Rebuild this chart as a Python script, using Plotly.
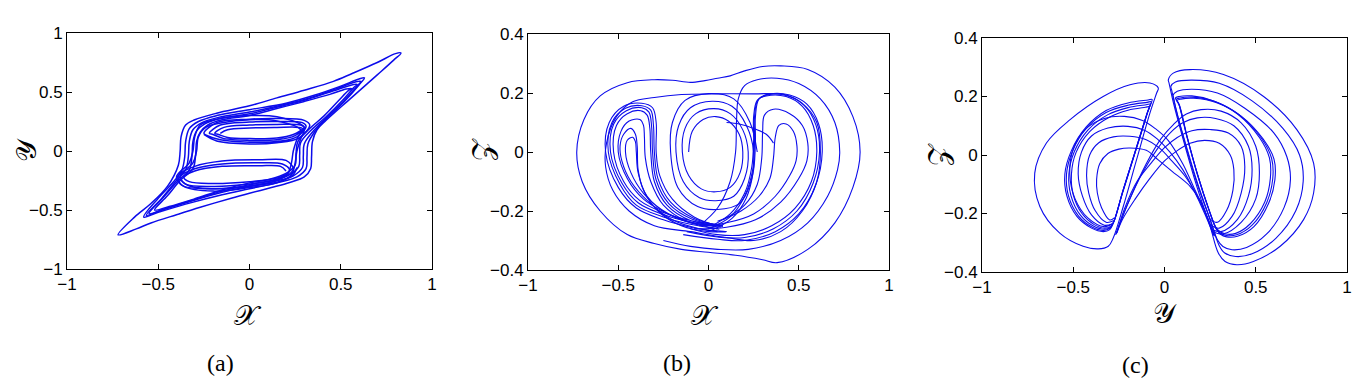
import plotly.graph_objects as go

# ---------------- tick labels ----------------
xy_ticks = [-1, -0.5, 0, 0.5, 1]
xy_tick_text = ["−1", "−0.5", "0", "0.5", "1"]
z_ticks = [-0.4, -0.2, 0, 0.2, 0.4]
z_tick_text = ["−0.4", "−0.2", "0", "0.2", "0.4"]
panel_labels = ["(a)", "(b)", "(c)"]
axis_names = ["𝒳", "𝒴", "𝒵"]

# ---------------- panel (a): x vs y ----------------
a_spike_x = [-0.72,-0.62,-0.54,-0.4,-0.27,-0.1,0.0,0.12,0.22,0.3,0.335,0.34,0.345,0.37,0.42,0.55,0.7,0.79,0.83,0.8,0.7,0.56,0.46,0.3,0.15,0.0,-0.18,-0.3,-0.35,-0.375,-0.38,-0.39,-0.45,-0.54,-0.63,-0.72, None,
             -0.58,-0.5,-0.35,-0.15,0.0,0.15,0.26,0.31,0.315,0.32,0.36,0.42,0.52,0.6,0.63,0.6,0.5,0.35,0.2,0.0,-0.18,-0.28,-0.33,-0.35,-0.355,-0.37,-0.41,-0.5,-0.58, None,
             -0.565,-0.48,-0.33,-0.15,0.0,0.13,0.24,0.29,0.295,0.3,0.35,0.42,0.52,0.59,0.61,0.58,0.48,0.33,0.18,0.0,-0.17,-0.26,-0.31,-0.33,-0.335,-0.35,-0.4,-0.48,-0.565, None,
             -0.55,-0.46,-0.32,-0.15,0.0,0.12,0.22,0.27,0.275,0.28,0.34,0.42,0.51,0.57,0.59,0.56,0.46,0.31,0.16,0.0,-0.16,-0.245,-0.29,-0.31,-0.315,-0.33,-0.39,-0.47,-0.55, None,
             -0.52,-0.44,-0.3,-0.15,0.0,0.11,0.2,0.25,0.255,0.265,0.33,0.41,0.49,0.54,0.56,0.53,0.44,0.3,0.15,0.0,-0.15,-0.23,-0.27,-0.29,-0.295,-0.31,-0.38,-0.45,-0.52]
a_spike_y = [-0.71,-0.66,-0.61,-0.54,-0.477,-0.4,-0.358,-0.31,-0.267,-0.22,-0.15,-0.05,0.08,0.18,0.26,0.44,0.645,0.77,0.83,0.825,0.75,0.655,0.59,0.515,0.45,0.383,0.32,0.265,0.22,0.12,0.0,-0.12,-0.3,-0.445,-0.56,-0.71, None,
             -0.56,-0.52,-0.45,-0.37,-0.32,-0.27,-0.22,-0.15,-0.05,0.06,0.17,0.27,0.42,0.56,0.62,0.61,0.55,0.47,0.405,0.35,0.3,0.25,0.19,0.08,-0.05,-0.16,-0.25,-0.4,-0.56, None,
             -0.545,-0.5,-0.43,-0.35,-0.3,-0.26,-0.21,-0.14,-0.04,0.06,0.17,0.28,0.43,0.55,0.59,0.585,0.53,0.45,0.39,0.33,0.285,0.24,0.18,0.08,-0.05,-0.16,-0.25,-0.4,-0.545, None,
             -0.53,-0.49,-0.42,-0.34,-0.285,-0.25,-0.2,-0.13,-0.03,0.07,0.18,0.29,0.43,0.535,0.565,0.56,0.51,0.435,0.375,0.315,0.275,0.23,0.17,0.08,-0.04,-0.16,-0.25,-0.39,-0.53, None,
             -0.5,-0.47,-0.405,-0.33,-0.27,-0.24,-0.19,-0.12,-0.02,0.08,0.19,0.3,0.43,0.51,0.53,0.525,0.48,0.42,0.36,0.3,0.265,0.22,0.16,0.08,-0.03,-0.15,-0.25,-0.38,-0.5]

a_lobe_x = [-0.16,-0.12,0.0,0.15,0.27,0.29,0.24,0.15,0.0,-0.12,-0.17,-0.19,-0.14,0.0,0.15,0.28,0.3,0.25,0.15,0.0,-0.14,-0.2,-0.22,-0.16,0.0,0.15,0.29,0.31,0.26,0.15,0.0,-0.16,-0.23,-0.25,-0.18,0.0,0.15,0.3,0.33,0.27,0.15,0.0,-0.18,-0.25, None,
            0.2,0.17,0.05,-0.15,-0.3,-0.36,-0.33,-0.2,0.0,0.15,0.21,0.22,0.18,0.05,-0.15,-0.3,-0.38,-0.35,-0.2,0.0,0.16,0.22,0.24,0.2,0.05,-0.15,-0.3,-0.39,-0.37,-0.2,0.0,0.17,0.24,0.26]
a_lobe_y = [0.15,0.18,0.195,0.2,0.2,0.19,0.14,0.11,0.105,0.115,0.14,0.15,0.2,0.22,0.225,0.22,0.2,0.13,0.095,0.09,0.105,0.14,0.15,0.22,0.245,0.25,0.24,0.21,0.12,0.08,0.075,0.095,0.13,0.15,0.24,0.27,0.275,0.26,0.22,0.11,0.07,0.06,0.085,0.14, None,
            -0.17,-0.13,-0.125,-0.13,-0.17,-0.22,-0.26,-0.275,-0.26,-0.23,-0.19,-0.16,-0.11,-0.1,-0.11,-0.15,-0.22,-0.28,-0.3,-0.28,-0.24,-0.195,-0.15,-0.08,-0.075,-0.085,-0.13,-0.21,-0.29,-0.32,-0.3,-0.255,-0.2,-0.14]

a_mid_x = [0.3,0.15,0.0,-0.18,-0.27,-0.3,-0.31,-0.33,-0.4,-0.36,-0.2,0.0,0.15,0.23,0.25,0.26,0.28,0.3, None,
           0.28,0.15,0.0,-0.15,-0.24,-0.28,-0.29,-0.31,-0.38,-0.34,-0.2,0.0,0.14,0.21,0.23,0.24,0.26,0.28]
a_mid_y = [0.2,0.29,0.3,0.27,0.22,0.12,0.0,-0.1,-0.22,-0.3,-0.34,-0.31,-0.27,-0.2,-0.1,0.0,0.1,0.2, None,
           0.18,0.255,0.265,0.24,0.2,0.12,0.0,-0.1,-0.21,-0.29,-0.32,-0.295,-0.255,-0.19,-0.1,0.0,0.1,0.18]

# ---------------- panel (b): x vs z ----------------
b_outer_x = [-0.1,-0.2,-0.3,-0.45,-0.6,-0.69,-0.73,-0.7,-0.6,-0.45,-0.3,-0.15,0.0,0.15,0.3,0.38,0.55,0.7,0.8,0.84,0.8,0.7,0.55,0.4,0.3,0.2,0.12,0.05,-0.02,-0.1, None,
             0.62,0.6,0.52,0.42,0.25,0.05,-0.15,-0.3,-0.42,-0.51,-0.565,-0.57,-0.53,-0.44,-0.3,-0.1,0.1,0.25,0.4,0.52,0.6,0.62, None,
             -0.25,-0.1,0.05,0.22,0.4,0.55,0.66,0.715,0.727,0.7,0.62,0.5,0.38,0.27,0.2,0.165,0.155,0.15,0.12,0.05,-0.05, None,
             0.1,0.17,0.25,0.32,0.36]
b_outer_z = [0.236,0.243,0.245,0.235,0.19,0.11,0.0,-0.1,-0.2,-0.28,-0.31,-0.33,-0.34,-0.35,-0.365,-0.375,-0.33,-0.24,-0.12,0.0,0.12,0.22,0.28,0.292,0.29,0.275,0.258,0.25,0.242,0.236, None,
             0.0,0.1,0.165,0.195,0.197,0.197,0.195,0.185,0.17,0.12,0.03,-0.05,-0.13,-0.2,-0.25,-0.27,-0.29,-0.3,-0.27,-0.2,-0.1,0.0, None,
             -0.3,-0.32,-0.33,-0.33,-0.3,-0.24,-0.15,-0.06,0.0,0.1,0.18,0.232,0.25,0.245,0.225,0.18,0.1,0.0,-0.1,-0.19,-0.25, None,
             0.1,0.095,0.08,0.06,0.03]

b_left_x = [0.05,-0.1,-0.25,-0.4,-0.5,-0.57,-0.55,-0.47,-0.37,-0.31,-0.29,-0.29,-0.27,-0.2,-0.08,0.05, None,
            0.06,-0.1,-0.25,-0.4,-0.49,-0.555,-0.535,-0.46,-0.37,-0.32,-0.305,-0.3,-0.28,-0.21,-0.08,0.06, None,
            0.07,-0.1,-0.25,-0.39,-0.48,-0.543,-0.525,-0.455,-0.37,-0.33,-0.315,-0.31,-0.29,-0.22,-0.09,0.07, None,
            0.08,-0.1,-0.25,-0.38,-0.47,-0.526,-0.51,-0.45,-0.375,-0.34,-0.325,-0.32,-0.3,-0.23,-0.1,0.08, None,
            0.05,-0.1,-0.24,-0.36,-0.45,-0.5,-0.485,-0.44,-0.38,-0.36,-0.355,-0.35,-0.32,-0.25,-0.12,0.05, None,
            0.1,-0.05,-0.2,-0.33,-0.43,-0.48,-0.49,-0.47,-0.43,-0.405,-0.395,-0.39,-0.36,-0.28,-0.15,0.0,0.1, None,
            0.05,-0.1,-0.25,-0.36,-0.43,-0.46,-0.45,-0.42,-0.405,-0.4,-0.39,-0.34,-0.22,-0.08,0.05]
b_left_z = [-0.27,-0.255,-0.23,-0.19,-0.12,0.0,0.1,0.155,0.165,0.15,0.1,0.0,-0.08,-0.16,-0.22,-0.25, None,
            -0.262,-0.245,-0.22,-0.18,-0.11,0.0,0.1,0.148,0.157,0.142,0.09,0.0,-0.09,-0.17,-0.225,-0.248, None,
            -0.255,-0.238,-0.212,-0.172,-0.105,0.0,0.095,0.14,0.15,0.135,0.085,0.0,-0.095,-0.175,-0.228,-0.25, None,
            -0.248,-0.232,-0.205,-0.165,-0.1,0.0,0.09,0.13,0.14,0.125,0.08,0.0,-0.1,-0.18,-0.232,-0.252, None,
            -0.26,-0.24,-0.205,-0.16,-0.09,0.0,0.07,0.105,0.11,0.09,0.05,-0.02,-0.1,-0.18,-0.235,-0.26, None,
            -0.27,-0.26,-0.23,-0.17,-0.1,-0.03,0.02,0.06,0.08,0.06,0.02,-0.06,-0.13,-0.2,-0.25,-0.27,-0.27, None,
            -0.25,-0.24,-0.2,-0.14,-0.07,0.0,0.04,0.05,0.035,0.0,-0.07,-0.15,-0.21,-0.24,-0.25]

b_right_x = [-0.1,0.05,0.2,0.35,0.48,0.57,0.6,0.58,0.52,0.43,0.32,0.27,0.25,0.25,0.24,0.2,0.12,0.02, None,
             -0.12,0.05,0.2,0.36,0.49,0.58,0.615,0.595,0.53,0.44,0.33,0.275,0.255,0.255,0.245,0.2,0.12,0.0, None,
             -0.14,0.05,0.2,0.37,0.5,0.595,0.63,0.61,0.545,0.45,0.34,0.28,0.26,0.26,0.25,0.21,0.13,0.0, None,
             -0.05,0.1,0.25,0.37,0.45,0.485,0.49,0.47,0.43,0.39,0.37,0.36,0.34,0.28,0.18,0.05, None,
             -0.08,0.1,0.26,0.4,0.5,0.545,0.55,0.52,0.45,0.36,0.31,0.3,0.295,0.27,0.2,0.08]
b_right_z = [-0.26,-0.28,-0.28,-0.25,-0.19,-0.1,0.0,0.09,0.155,0.188,0.19,0.175,0.12,0.04,-0.05,-0.14,-0.21,-0.25, None,
             -0.27,-0.288,-0.29,-0.26,-0.2,-0.105,0.0,0.092,0.158,0.19,0.194,0.178,0.12,0.04,-0.06,-0.15,-0.22,-0.26, None,
             -0.28,-0.296,-0.3,-0.27,-0.21,-0.11,0.0,0.095,0.162,0.193,0.197,0.18,0.12,0.04,-0.06,-0.155,-0.225,-0.27, None,
             -0.25,-0.24,-0.21,-0.15,-0.08,-0.03,0.02,0.07,0.095,0.09,0.05,-0.02,-0.09,-0.15,-0.2,-0.235, None,
             -0.26,-0.255,-0.23,-0.17,-0.09,-0.03,0.03,0.09,0.13,0.145,0.125,0.07,-0.02,-0.11,-0.18,-0.23]

b_ring_x = [-0.11,-0.09,-0.03,0.04,0.11,0.17,0.19,0.175,0.12,0.04,-0.04,-0.11,-0.145,-0.13,-0.07,0.03,0.12,0.19,0.22,0.2,0.14,0.04,-0.05,-0.14,-0.18,-0.165,-0.1,0.02,0.13,0.21,0.25,0.235,0.17,0.05,-0.06,-0.17,-0.21,-0.2,-0.13,0.0,0.14,0.23,0.27]
b_ring_z = [0.0,0.07,0.11,0.12,0.105,0.06,0.0,-0.07,-0.12,-0.135,-0.125,-0.08,0.0,0.08,0.13,0.147,0.13,0.075,0.0,-0.09,-0.15,-0.165,-0.155,-0.1,0.0,0.09,0.15,0.172,0.155,0.09,0.0,-0.1,-0.175,-0.195,-0.185,-0.12,0.0,0.1,0.175,0.198,0.18,0.1,0.0]

# ---------------- panel (c): y vs z ----------------
c_left_y = [-0.034,-0.08,-0.189,-0.336,-0.519,-0.647,-0.711,-0.683,-0.574,-0.446,-0.363,-0.308,-0.281,-0.226,-0.153,-0.08,-0.043,-0.034, None,
            -0.068,-0.09,-0.2,-0.32,-0.43,-0.51,-0.546,-0.535,-0.48,-0.4,-0.335,-0.3,-0.28,-0.23,-0.17,-0.12,-0.085,-0.068, None,
            -0.073,-0.095,-0.2,-0.32,-0.43,-0.505,-0.537,-0.526,-0.472,-0.395,-0.333,-0.298,-0.278,-0.23,-0.17,-0.122,-0.088,-0.073, None,
            -0.078,-0.1,-0.2,-0.31,-0.42,-0.495,-0.524,-0.513,-0.462,-0.39,-0.33,-0.296,-0.276,-0.23,-0.172,-0.125,-0.092,-0.078, None,
            -0.083,-0.105,-0.2,-0.3,-0.41,-0.485,-0.51,-0.5,-0.452,-0.385,-0.328,-0.294,-0.274,-0.23,-0.175,-0.128,-0.096,-0.083]
c_left_z = [0.229,0.246,0.24,0.2,0.12,0.041,-0.062,-0.176,-0.267,-0.312,-0.321,-0.312,-0.284,-0.176,-0.016,0.143,0.212,0.229, None,
            0.19,0.188,0.178,0.152,0.095,0.015,-0.065,-0.14,-0.21,-0.25,-0.262,-0.255,-0.232,-0.13,-0.01,0.09,0.16,0.19, None,
            0.182,0.18,0.17,0.145,0.09,0.012,-0.066,-0.14,-0.208,-0.247,-0.258,-0.25,-0.228,-0.128,-0.008,0.088,0.155,0.182, None,
            0.174,0.172,0.162,0.138,0.085,0.01,-0.066,-0.138,-0.205,-0.243,-0.254,-0.247,-0.225,-0.127,-0.012,0.083,0.149,0.174, None,
            0.165,0.163,0.153,0.13,0.08,0.008,-0.066,-0.136,-0.2,-0.238,-0.25,-0.243,-0.222,-0.127,-0.016,0.078,0.141,0.165]

c_right_y = [0.021,0.048,0.14,0.323,0.543,0.726,0.817,0.817,0.762,0.634,0.487,0.396,0.332,0.295,0.25,0.177,0.103,0.049,0.025,0.021, None,
             0.035,0.06,0.15,0.3,0.48,0.65,0.74,0.76,0.72,0.61,0.48,0.39,0.33,0.3,0.255,0.18,0.11,0.06,0.04,0.035, None,
             0.047,0.07,0.15,0.29,0.44,0.6,0.67,0.69,0.655,0.56,0.45,0.37,0.32,0.29,0.25,0.18,0.115,0.065,0.05,0.047, None,
             0.06,0.08,0.15,0.27,0.4,0.52,0.575,0.58,0.55,0.47,0.39,0.335,0.3,0.28,0.24,0.18,0.12,0.075,0.06, None,
             0.064,0.085,0.15,0.28,0.41,0.53,0.587,0.593,0.56,0.48,0.395,0.338,0.302,0.282,0.242,0.182,0.122,0.078,0.064, None,
             0.068,0.09,0.16,0.29,0.42,0.54,0.6,0.605,0.57,0.49,0.4,0.34,0.305,0.285,0.245,0.185,0.125,0.082,0.068]
c_right_z = [0.257,0.28,0.292,0.275,0.2,0.086,-0.028,-0.13,-0.221,-0.312,-0.364,-0.375,-0.364,-0.335,-0.244,-0.107,0.052,0.178,0.246,0.257, None,
             0.235,0.25,0.256,0.245,0.185,0.09,0.0,-0.09,-0.19,-0.285,-0.338,-0.347,-0.335,-0.31,-0.23,-0.1,0.045,0.165,0.22,0.235, None,
             0.205,0.218,0.225,0.212,0.16,0.075,-0.005,-0.085,-0.18,-0.27,-0.316,-0.324,-0.313,-0.29,-0.22,-0.095,0.04,0.15,0.195,0.205, None,
             0.195,0.2,0.202,0.185,0.14,0.06,-0.01,-0.08,-0.16,-0.235,-0.268,-0.27,-0.26,-0.245,-0.18,-0.065,0.07,0.18,0.195, None,
             0.19,0.195,0.198,0.182,0.137,0.058,-0.012,-0.082,-0.163,-0.24,-0.273,-0.275,-0.265,-0.25,-0.185,-0.07,0.065,0.175,0.19, None,
             0.186,0.191,0.194,0.178,0.133,0.055,-0.014,-0.084,-0.166,-0.245,-0.278,-0.28,-0.27,-0.255,-0.19,-0.075,0.06,0.17,0.186]

c_arch_y = [-0.285,-0.33,-0.42,-0.49,-0.519,-0.5,-0.43,-0.33,-0.22,-0.12,-0.05,0.02,0.1,0.16,0.22,0.27, None,
            -0.285,-0.33,-0.4,-0.45,-0.473,-0.455,-0.4,-0.31,-0.2,-0.11,-0.04,0.03,0.1,0.16,0.22,0.27, None,
            -0.28,-0.32,-0.38,-0.415,-0.427,-0.41,-0.36,-0.28,-0.19,-0.1,-0.03,0.04,0.11,0.17,0.225,0.27, None,
            -0.275,-0.3,-0.345,-0.368,-0.372,-0.355,-0.31,-0.25,-0.19,-0.1,-0.036,0.04,0.14,0.2,0.232,0.277, None,
            0.25,0.29,0.34,0.375,0.38,0.36,0.3,0.22,0.14,0.07,0.0,-0.08,-0.16,-0.23,-0.26, None,
            0.255,0.3,0.37,0.42,0.44,0.42,0.35,0.25,0.15,0.07,0.0,-0.07,-0.15,-0.22,-0.262, None,
            0.26,0.31,0.4,0.46,0.48,0.46,0.38,0.28,0.18,0.1,0.03,-0.04,-0.12,-0.2,-0.265, None,
            0.265,0.32,0.42,0.5,0.52,0.5,0.42,0.31,0.2,0.12,0.05,-0.02,-0.1,-0.19,-0.268]
c_arch_z = [-0.235,-0.245,-0.215,-0.15,-0.065,0.02,0.09,0.125,0.132,0.118,0.09,0.05,-0.03,-0.11,-0.19,-0.27, None,
            -0.235,-0.24,-0.205,-0.14,-0.065,0.01,0.065,0.092,0.098,0.085,0.055,0.01,-0.05,-0.12,-0.2,-0.275, None,
            -0.225,-0.23,-0.19,-0.13,-0.07,0.0,0.042,0.062,0.064,0.052,0.025,-0.02,-0.07,-0.13,-0.2,-0.275, None,
            -0.215,-0.222,-0.18,-0.13,-0.084,-0.03,0.005,0.02,0.024,0.016,-0.016,-0.055,-0.107,-0.16,-0.21,-0.278, None,
            -0.22,-0.23,-0.19,-0.12,-0.05,0.0,0.04,0.05,0.04,0.015,-0.02,-0.08,-0.15,-0.22,-0.265, None,
            -0.24,-0.25,-0.21,-0.13,-0.04,0.03,0.075,0.087,0.083,0.06,0.025,-0.025,-0.09,-0.185,-0.267, None,
            -0.255,-0.262,-0.22,-0.14,-0.05,0.03,0.1,0.125,0.127,0.11,0.075,0.02,-0.06,-0.165,-0.27, None,
            -0.262,-0.27,-0.23,-0.15,-0.06,0.03,0.11,0.15,0.155,0.14,0.105,0.055,-0.03,-0.15,-0.273]

# ---------------- figure ----------------
W, H = 1358, 383
BLUE = "rgb(12,12,235)"

fig = go.Figure()

def add(xs, ys, xa, ya, width):
    fig.add_trace(go.Scatter(x=xs, y=ys, xaxis=xa, yaxis=ya, mode="lines",
                             line=dict(color=BLUE, width=width, shape="spline", smoothing=1.0),
                             connectgaps=False, hoverinfo="skip", showlegend=False))

add(a_spike_x, a_spike_y, "x", "y", 1.5)
add(a_lobe_x, a_lobe_y, "x", "y", 1.5)
add(a_mid_x, a_mid_y, "x", "y", 1.5)

add(b_outer_x, b_outer_z, "x2", "y2", 1.1)
add(b_left_x, b_left_z, "x2", "y2", 1.1)
add(b_right_x, b_right_z, "x2", "y2", 1.1)
add(b_ring_x, b_ring_z, "x2", "y2", 1.1)

add(c_left_y, c_left_z, "x3", "y3", 1.1)
add(c_right_y, c_right_z, "x3", "y3", 1.1)
add(c_arch_y, c_arch_z, "x3", "y3", 1.1)

tick_font = dict(family="Liberation Sans, Arial, sans-serif", size=17, color="black")

def ax(rng, vals, text, dom, anchor):
    return dict(range=rng, tickvals=vals, ticktext=text, domain=dom, anchor=anchor,
                ticks="inside", ticklen=5, tickwidth=1, tickcolor="black",
                showline=True, linecolor="black", linewidth=1, mirror="ticks",
                showgrid=False, zeroline=False, tickfont=tick_font, fixedrange=True,
                automargin=False)

def px_x(p):
    return p / W

def px_y(p):
    return 1 - p / H

fig.update_layout(
    width=W, height=H,
    margin=dict(l=0, r=0, t=0, b=0, pad=0, autoexpand=False),
    paper_bgcolor="white", plot_bgcolor="white",
    xaxis=ax([-1, 1], xy_ticks, xy_tick_text, [px_x(67), px_x(432)], "y"),
    yaxis=ax([-1, 1], xy_ticks, xy_tick_text, [px_y(269), px_y(33)], "x"),
    xaxis2=ax([-1, 1], xy_ticks, xy_tick_text, [px_x(528), px_x(889)], "y2"),
    yaxis2=ax([-0.4, 0.4], z_ticks, z_tick_text, [px_y(270), px_y(34)], "x2"),
    xaxis3=ax([-1, 1], xy_ticks, xy_tick_text, [px_x(982), px_x(1347)], "y3"),
    yaxis3=ax([-0.4, 0.4], z_ticks, z_tick_text, [px_y(272), px_y(38)], "x3"),
)

title_font = dict(family="DejaVu Serif, Noto Sans, serif", size=28, color="black")
label_font = dict(family="Liberation Serif, Times New Roman, serif", size=24, color="black")

ann = []
for (name, xp, yp, ang) in [(axis_names[0], 248, 315, 0), (axis_names[1], 27, 150, -90),
                            (axis_names[0], 705, 315, 0), (axis_names[2], 483, 150, -90),
                            (axis_names[1], 1165, 313, 0), (axis_names[2], 938, 155, -90)]:
    ann.append(dict(text=name, x=px_x(xp), y=px_y(yp), xref="paper", yref="paper",
                    xanchor="center", yanchor="middle", showarrow=False,
                    textangle=ang, font=title_font))
for (lab, xp, yp) in zip(panel_labels, [220, 677, 1135], [363, 363, 365]):
    ann.append(dict(text=lab, x=px_x(xp), y=px_y(yp), xref="paper", yref="paper",
                    xanchor="center", yanchor="middle", showarrow=False, font=label_font))
fig.update_layout(annotations=ann)

fig.write_html("out.html",
               config={"displayModeBar": False, "staticPlot": True},
               post_script="document.body.style.margin='0';document.body.style.overflow='hidden';")
